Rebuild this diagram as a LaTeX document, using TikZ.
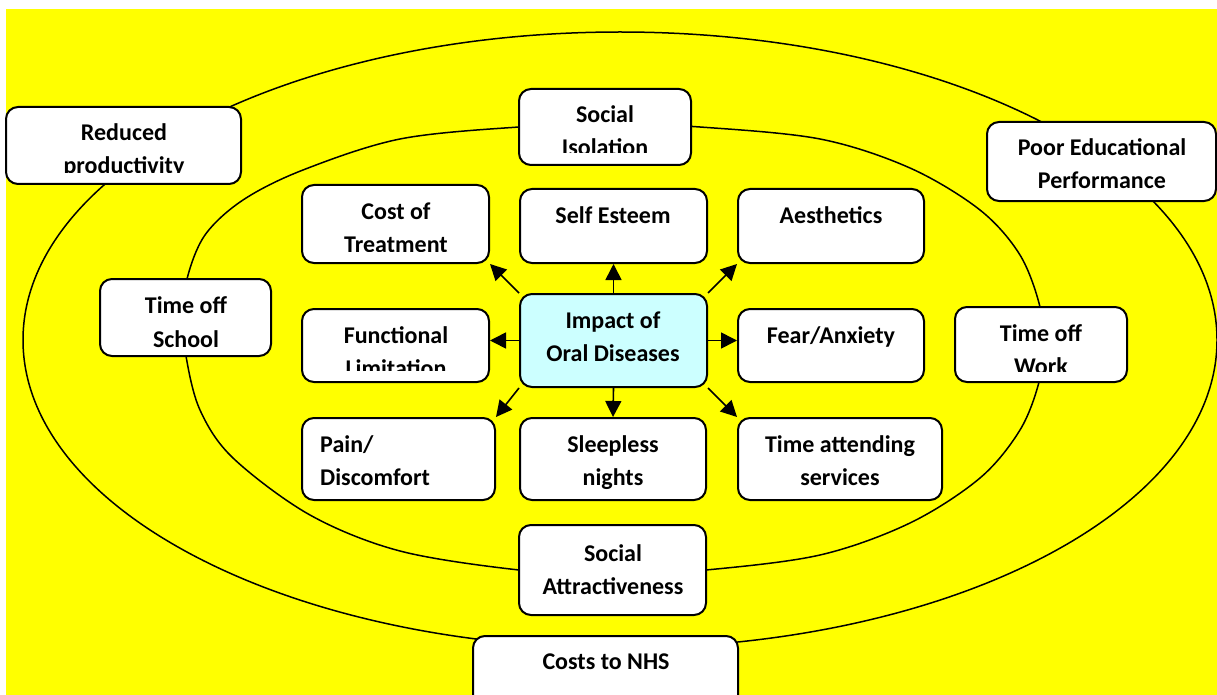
\documentclass[tikz,border=0pt]{standalone}
\usepackage{fontspec}
\setmainfont{Carlito}
\usetikzlibrary{arrows.meta}
\definecolor{bgy}{HTML}{FFFF00}
\definecolor{cyanl}{HTML}{CCFFFF}
\newcommand\twol[2]{\begin{tabular}[t]{@{}c@{}}#1\\#2\end{tabular}}
\newcommand\twoleft[2]{\begin{tabular}[t]{@{}l@{}}#1\\#2\end{tabular}}
\newcommand\mkbox[6]{\node[boxst,#6,minimum width={#4-#2},minimum height={#5-#3}] (#1) at ({(#2+#4)/2},{(#3+#5)/2}) {};}
\tikzset{
  boxst/.style={draw=black, line width=2pt, fill=white, rounded corners=12pt, inner sep=0pt},
  txt/.style={anchor=base, inner sep=0pt, font=\fontsize{24}{33}\selectfont\bfseries},
  ell/.style={draw=black, line width=1.5pt},
  arr/.style={draw=black, line width=1.6pt, -{Triangle[length=16pt,width=16pt]}}
}
\begin{document}
\begin{tikzpicture}[x=1pt,y=-1pt]
\useasboundingbox (0,0) rectangle (1217,695);
\clip (0,0) rectangle (1217,695);
\fill[white] (0,0) rectangle (1217,695);
\fill[bgy] (6,9) rectangle (1217,695);
% ellipses
\draw[ell] (620,340) ellipse [x radius=597pt, y radius=308pt];
\draw[ell] plot[smooth cycle, tension=0.55] coordinates {
 (613,124) (700,127) (820,139) (910,168) (980,210) (1020,255) (1040,307)
 (1042,345) (1039,382) (1020,430) (980,478) (910,523) (820,555) (706,570)
 (613,575) (519,570) (400,551) (310,515) (233,458) (200,410) (186,356)
 (184,318) (187,279) (205,235) (243,200) (303,170) (400,139) (519,127)};
% boxes
\mkbox{reduced}{6}{107}{241}{184}{}
\mkbox{isol}{519}{89}{691}{165}{}
\mkbox{poor}{987}{122}{1216}{201}{}
\mkbox{cost}{302}{185}{489}{263}{}
\mkbox{self}{520}{189}{707}{263}{}
\mkbox{aesth}{738}{189}{924}{263}{}
\mkbox{impact}{520}{294}{707}{387}{fill=cyanl}
\mkbox{func}{302}{309}{489}{382}{}
\mkbox{fear}{738}{309}{924}{382}{}
\mkbox{school}{100}{279}{271}{356}{}
\mkbox{work}{955}{307}{1127}{382}{}
\mkbox{pain}{302}{418}{495}{500}{}
\mkbox{sleep}{520}{418}{706}{500}{}
\mkbox{attend}{738}{418}{942}{500}{}
\mkbox{attract}{519}{525}{706}{615}{}
\mkbox{nhs}{473}{636}{738}{720}{}
% texts
\begin{scope}
\clip (8,109) rectangle (239,173);
\node[txt] (reducedt) at (124,141) {\twol{Reduced}{productivity}};
\end{scope}
\begin{scope}
\clip (521,91) rectangle (689,153);
\node[txt] (isolt) at (605,123) {\twol{Social}{Isolation}};
\end{scope}
\node[txt] (poort) at (1102,156) {\twol{Poor Educational}{Performance}};
\begin{scope}
\clip (304,187) rectangle (487,251);
\node[txt] (costt) at (396,219) {\twol{Cost of}{Treatment}};
\end{scope}
\node[txt] (selft) at (613,223) {Self Esteem};
\node[txt] (aestht) at (831,223) {Aesthetics};
\node[txt] (impactt) at (613,328) {\twol{Impact of}{Oral Diseases}};
\begin{scope}
\clip (304,311) rectangle (487,370);
\node[txt] (funct) at (396,343) {\twol{Functional}{Limitation}};
\end{scope}
\node[txt] (feart) at (831,343) {Fear/Anxiety};
\node[txt, font=\fontsize{24}{34}\selectfont\bfseries] (schoolt) at (186,313) {\twol{Time off}{School}};
\begin{scope}
\clip (957,309) rectangle (1125,371);
\node[txt] (workt) at (1041,341) {\twol{Time off}{Work}};
\end{scope}
\node[txt, anchor=base west] (paint) at (320,452) {\twoleft{Pain/}{Discomfort}};
\node[txt] (sleept) at (613,452) {\twol{Sleepless}{nights}};
\node[txt] (attendt) at (840,452) {\twol{Time attending}{services}};
\node[txt] (attractt) at (613,561) {\twol{Social}{Attractiveness}};
\node[txt] (nhst) at (606,669) {Costs to NHS};
% arrows
\draw[arr] (impact.north) -- (self.south);
\draw[arr] (impact.north west) -- (cost.south east);
\draw[arr] (impact.north east) -- (aesth.south west);
\draw[arr] (impact.west) -- (impact.west -| func.east);
\draw[arr] (impact.east) -- (impact.east -| fear.west);
\draw[arr] (impact.south) -- (sleep.north);
\draw[arr] (impact.south west) -- (pain.north east);
\draw[arr] (impact.south east) -- (attend.north west);
\end{tikzpicture}
\end{document}
